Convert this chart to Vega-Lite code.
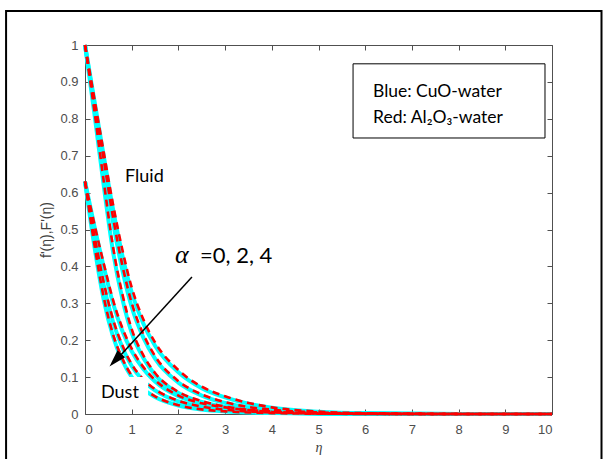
{
  "$schema": "https://vega.github.io/schema/vega-lite/v6.json",
  "width": 467,
  "height": 369,
  "autosize": {"type": "none"},
  "padding": {"left": 85, "top": 45, "right": 52, "bottom": 45},
  "background": "white",
  "config": {
    "view": {"stroke": null},
    "axis": {
      "grid": false,
      "domainColor": "#505050",
      "tickColor": "#505050",
      "labelColor": "#4d4d4d",
      "labelFont": "Liberation Sans",
      "labelFontSize": 13,
      "tickSize": -5,
      "titleFontWeight": "normal",
      "titleColor": "#404040"
    }
  },
  "datasets": {
    "curves": [
      {"c":"F0","eta":0,"cuo":1,"al":1},{"c":"F0","eta":0.2,"cuo":0.85,"al":0.855},{"c":"F0","eta":0.4,"cuo":0.7,"al":0.71},{"c":"F0","eta":0.6,"cuo":0.555,"al":0.568},{"c":"F0","eta":0.8,"cuo":0.43,"al":0.445},{"c":"F0","eta":1,"cuo":0.33,"al":0.343},{"c":"F0","eta":1.25,"cuo":0.245,"al":0.256},{"c":"F0","eta":1.5,"cuo":0.185,"al":0.194},{"c":"F0","eta":2,"cuo":0.113,"al":0.119},{"c":"F0","eta":2.5,"cuo":0.07,"al":0.074},{"c":"F0","eta":3,"cuo":0.045,"al":0.048},{"c":"F0","eta":3.5,"cuo":0.028,"al":0.03},{"c":"F0","eta":4,"cuo":0.017,"al":0.018},{"c":"F0","eta":5,"cuo":0.006,"al":0.0065},{"c":"F0","eta":6,"cuo":0.002,"al":0.0022},{"c":"F0","eta":8,"cuo":0.0002,"al":0.0002},{"c":"F0","eta":10,"cuo":0,"al":0},
      {"c":"F2","eta":0,"cuo":1,"al":1},{"c":"F2","eta":0.2,"cuo":0.84,"al":0.845},{"c":"F2","eta":0.4,"cuo":0.68,"al":0.69},{"c":"F2","eta":0.6,"cuo":0.52,"al":0.533},{"c":"F2","eta":0.8,"cuo":0.39,"al":0.403},{"c":"F2","eta":1,"cuo":0.29,"al":0.301},{"c":"F2","eta":1.25,"cuo":0.207,"al":0.216},{"c":"F2","eta":1.5,"cuo":0.15,"al":0.157},{"c":"F2","eta":2,"cuo":0.085,"al":0.089},{"c":"F2","eta":2.5,"cuo":0.05,"al":0.053},{"c":"F2","eta":3,"cuo":0.03,"al":0.032},{"c":"F2","eta":3.5,"cuo":0.018,"al":0.019},{"c":"F2","eta":4,"cuo":0.011,"al":0.0117},{"c":"F2","eta":5,"cuo":0.004,"al":0.0043},{"c":"F2","eta":6,"cuo":0.0013,"al":0.0014},{"c":"F2","eta":8,"cuo":0.0001,"al":0.0001},{"c":"F2","eta":10,"cuo":0,"al":0},
      {"c":"F4","eta":0,"cuo":1,"al":1},{"c":"F4","eta":0.2,"cuo":0.815,"al":0.822},{"c":"F4","eta":0.4,"cuo":0.62,"al":0.632},{"c":"F4","eta":0.6,"cuo":0.44,"al":0.453},{"c":"F4","eta":0.8,"cuo":0.312,"al":0.325},{"c":"F4","eta":1,"cuo":0.22,"al":0.23},{"c":"F4","eta":1.25,"cuo":0.152,"al":0.159},{"c":"F4","eta":1.5,"cuo":0.106,"al":0.111},{"c":"F4","eta":2,"cuo":0.057,"al":0.06},{"c":"F4","eta":2.5,"cuo":0.033,"al":0.035},{"c":"F4","eta":3,"cuo":0.019,"al":0.02},{"c":"F4","eta":3.5,"cuo":0.011,"al":0.0117},{"c":"F4","eta":4,"cuo":0.0065,"al":0.0069},{"c":"F4","eta":5,"cuo":0.0022,"al":0.0023},{"c":"F4","eta":6,"cuo":0.0007,"al":0.0007},{"c":"F4","eta":8,"cuo":0.0001,"al":0.0001},{"c":"F4","eta":10,"cuo":0,"al":0},
      {"c":"D0","eta":0,"cuo":0.63,"al":0.63},{"c":"D0","eta":0.2,"cuo":0.51,"al":0.515},{"c":"D0","eta":0.4,"cuo":0.4,"al":0.408},{"c":"D0","eta":0.6,"cuo":0.3,"al":0.309},{"c":"D0","eta":0.8,"cuo":0.225,"al":0.233},{"c":"D0","eta":1,"cuo":0.17,"al":0.177},{"c":"D0","eta":1.25,"cuo":0.122,"al":0.127},{"c":"D0","eta":1.5,"cuo":0.088,"al":0.092},{"c":"D0","eta":2,"cuo":0.048,"al":0.05},{"c":"D0","eta":2.5,"cuo":0.028,"al":0.029},{"c":"D0","eta":3,"cuo":0.017,"al":0.018},{"c":"D0","eta":3.5,"cuo":0.01,"al":0.0105},{"c":"D0","eta":4,"cuo":0.006,"al":0.0063},{"c":"D0","eta":5,"cuo":0.002,"al":0.0021},{"c":"D0","eta":6,"cuo":0.0007,"al":0.0007},{"c":"D0","eta":8,"cuo":0.0001,"al":0.0001},{"c":"D0","eta":10,"cuo":0,"al":0},
      {"c":"D2","eta":0,"cuo":0.63,"al":0.63},{"c":"D2","eta":0.2,"cuo":0.48,"al":0.485},{"c":"D2","eta":0.4,"cuo":0.35,"al":0.357},{"c":"D2","eta":0.6,"cuo":0.25,"al":0.257},{"c":"D2","eta":0.8,"cuo":0.18,"al":0.186},{"c":"D2","eta":1,"cuo":0.13,"al":0.135},{"c":"D2","eta":1.25,"cuo":0.09,"al":0.094},{"c":"D2","eta":1.5,"cuo":0.064,"al":0.067},{"c":"D2","eta":2,"cuo":0.034,"al":0.036},{"c":"D2","eta":2.5,"cuo":0.019,"al":0.02},{"c":"D2","eta":3,"cuo":0.011,"al":0.0115},{"c":"D2","eta":3.5,"cuo":0.0065,"al":0.0068},{"c":"D2","eta":4,"cuo":0.004,"al":0.0042},{"c":"D2","eta":5,"cuo":0.0013,"al":0.0014},{"c":"D2","eta":6,"cuo":0.0004,"al":0.0004},{"c":"D2","eta":8,"cuo":0,"al":0},{"c":"D2","eta":10,"cuo":0,"al":0},
      {"c":"D4","eta":0,"cuo":0.63,"al":0.63},{"c":"D4","eta":0.2,"cuo":0.455,"al":0.46},{"c":"D4","eta":0.4,"cuo":0.31,"al":0.317},{"c":"D4","eta":0.6,"cuo":0.21,"al":0.216},{"c":"D4","eta":0.8,"cuo":0.145,"al":0.15},{"c":"D4","eta":1,"cuo":0.1,"al":0.104},{"c":"D4","eta":1.25,"cuo":0.067,"al":0.07},{"c":"D4","eta":1.5,"cuo":0.046,"al":0.048},{"c":"D4","eta":2,"cuo":0.023,"al":0.024},{"c":"D4","eta":2.5,"cuo":0.012,"al":0.0125},{"c":"D4","eta":3,"cuo":0.0068,"al":0.0071},{"c":"D4","eta":3.5,"cuo":0.004,"al":0.0042},{"c":"D4","eta":4,"cuo":0.0024,"al":0.0025},{"c":"D4","eta":5,"cuo":0.0008,"al":0.0008},{"c":"D4","eta":6,"cuo":0.0003,"al":0.0003},{"c":"D4","eta":8,"cuo":0,"al":0},{"c":"D4","eta":10,"cuo":0,"al":0}
    ]
  },
  "layer": [
    {
      "data": {"name": "curves"},
      "mark": {"type": "line", "color": "#00ffff", "strokeWidth": 4, "interpolate": "monotone"},
      "encoding": {
        "x": {"field": "eta", "type": "quantitative", "scale": {"domain": [0, 10]},
          "axis": {"orient": "bottom", "values": [0,1,2,3,4,5,6,7,8,9,10], "format": "d", "labelPadding": 14,
            "title": "η", "titleFont": "Liberation Serif", "titleFontStyle": "italic", "titleFontSize": 14, "titlePadding": 4}},
        "y": {"field": "cuo", "type": "quantitative", "scale": {"domain": [0, 1]},
          "axis": {"orient": "left", "values": [0,0.1,0.2,0.3,0.4,0.5,0.6,0.7,0.8,0.9,1], "format": "~g", "labelPadding": 12,
            "title": "f'(η),F'(η)", "titleFont": "Liberation Sans", "titleFontSize": 14, "titlePadding": 6}},
        "detail": {"field": "c"}
      }
    },
    {
      "data": {"name": "curves"},
      "mark": {"type": "line", "color": "#ff0000", "strokeWidth": 2.6, "strokeDash": [7, 5], "interpolate": "monotone"},
      "encoding": {
        "x": {"field": "eta", "type": "quantitative",
          "axis": {"orient": "top", "values": [0,1,2,3,4,5,6,7,8,9,10], "labels": false, "title": null}},
        "y": {"field": "al", "type": "quantitative",
          "axis": {"orient": "right", "values": [0,0.1,0.2,0.3,0.4,0.5,0.6,0.7,0.8,0.9,1], "labels": false, "title": null}},
        "detail": {"field": "c"}
      }
    },
    {
      "data": {"values": [{}]},
      "mark": {"type": "rect", "fill": "white", "stroke": null},
      "encoding": {
        "x": {"datum": 0.257, "type": "quantitative", "axis": null},
        "x2": {"datum": 1.35},
        "y": {"datum": 0.1, "type": "quantitative", "axis": null},
        "y2": {"datum": 0.02}
      }
    },
    {
      "data": {"values": [{}]},
      "mark": {"type": "rect", "fill": "white", "stroke": "black", "strokeWidth": 1},
      "encoding": {
        "x": {"datum": 5.74, "type": "quantitative", "axis": null},
        "x2": {"datum": 9.85},
        "y": {"datum": 0.949, "type": "quantitative", "axis": null},
        "y2": {"datum": 0.748}
      }
    },
    {
      "data": {"values": [{}]},
      "mark": {"type": "rect", "fill": null, "stroke": "black", "strokeWidth": 2, "clip": false},
      "encoding": {
        "x": {"datum": -1.69, "type": "quantitative", "axis": null},
        "x2": {"datum": 11.06},
        "y": {"datum": 1.092, "type": "quantitative", "axis": null},
        "y2": {"datum": -0.3}
      }
    },
    {
      "data": {"values": [{}]},
      "mark": {"type": "rule", "color": "black", "strokeWidth": 1.5},
      "encoding": {
        "x": {"datum": 2.29, "type": "quantitative", "axis": null},
        "x2": {"datum": 0.66},
        "y": {"datum": 0.371, "type": "quantitative", "axis": null},
        "y2": {"datum": 0.145}
      }
    },
    {
      "data": {"values": [{}]},
      "mark": {"type": "point", "shape": "M0,-1L0.6,1L-0.6,1Z", "filled": true, "color": "black", "opacity": 1, "size": 300, "angle": 223},
      "encoding": {
        "x": {"datum": 0.651, "type": "quantitative", "axis": null},
        "y": {"datum": 0.146, "type": "quantitative", "axis": null}
      }
    },
    {
      "data": {"values": [{}]},
      "mark": {"type": "text", "align": "left", "baseline": "alphabetic", "font": "Lato", "fontSize": 18, "color": "black"},
      "encoding": {
        "x": {"datum": 0.857, "type": "quantitative", "axis": null},
        "y": {"datum": 0.629, "type": "quantitative", "axis": null},
        "text": {"value": "Fluid"}
      }
    },
    {
      "data": {"values": [{}]},
      "mark": {"type": "text", "align": "left", "baseline": "alphabetic", "font": "Lato", "fontSize": 18, "color": "black"},
      "encoding": {
        "x": {"datum": 0.343, "type": "quantitative", "axis": null},
        "y": {"datum": 0.0434, "type": "quantitative", "axis": null},
        "text": {"value": "Dust"}
      }
    },
    {
      "data": {"values": [{}]},
      "mark": {"type": "text", "align": "left", "baseline": "alphabetic", "font": "Lato", "fontSize": 17.5, "color": "black"},
      "encoding": {
        "x": {"datum": 6.167, "type": "quantitative", "axis": null},
        "y": {"datum": 0.859, "type": "quantitative", "axis": null},
        "text": {"value": "Blue: CuO-water"}
      }
    },
    {
      "data": {"values": [{}]},
      "mark": {"type": "text", "align": "left", "baseline": "alphabetic", "font": "Lato", "fontSize": 17.5, "color": "black"},
      "encoding": {
        "x": {"datum": 6.167, "type": "quantitative", "axis": null},
        "y": {"datum": 0.789, "type": "quantitative", "axis": null},
        "text": {"value": "Red: Al₂O₃-water"}
      }
    },
    {
      "data": {"values": [{}]},
      "mark": {"type": "text", "align": "left", "baseline": "alphabetic", "font": "Liberation Serif", "fontStyle": "italic", "fontSize": 26, "color": "black"},
      "encoding": {
        "x": {"datum": 1.927, "type": "quantitative", "axis": null},
        "y": {"datum": 0.409, "type": "quantitative", "axis": null},
        "text": {"value": "α"}
      }
    },
    {
      "data": {"values": [{}]},
      "mark": {"type": "text", "align": "left", "baseline": "alphabetic", "font": "Lato", "fontSize": 22, "color": "black"},
      "encoding": {
        "x": {"datum": 2.463, "type": "quantitative", "axis": null},
        "y": {"datum": 0.409, "type": "quantitative", "axis": null},
        "text": {"value": "=0, 2, 4"}
      }
    }
  ],
  "resolve": {"axis": {"x": "independent", "y": "independent"}}
}
